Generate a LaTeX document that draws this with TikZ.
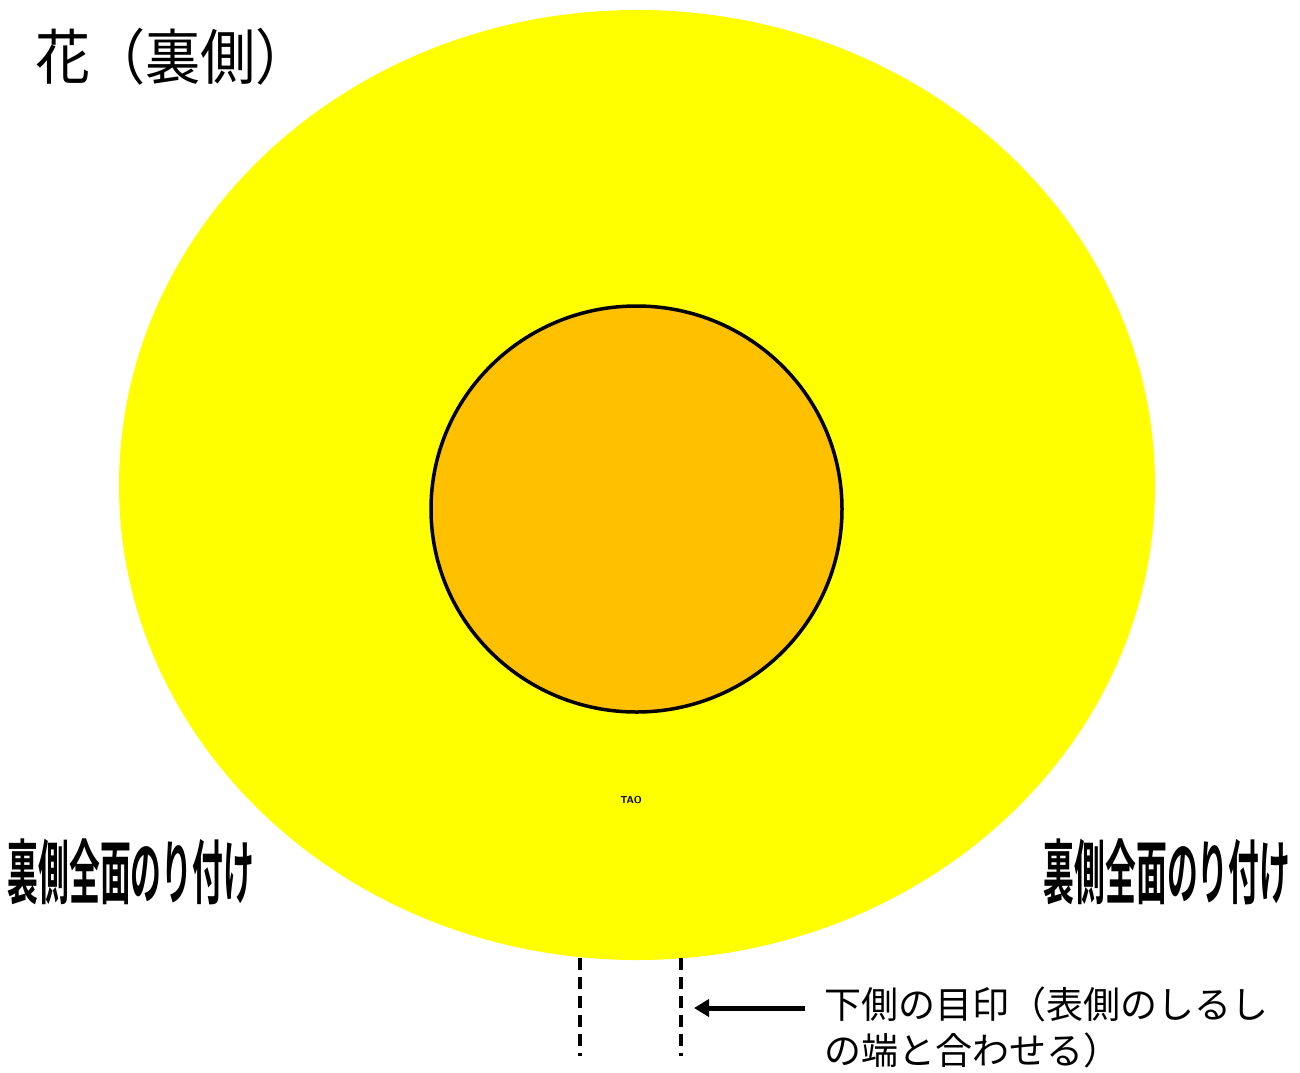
\documentclass[tikz,border=0pt]{standalone}
\usepackage{fontspec}
\newfontfamily\jp{Noto Sans CJK JP}
\newfontfamily\jpb{Noto Sans CJK JP Bold}
\usetikzlibrary{arrows.meta,shapes.geometric}
\definecolor{petal}{HTML}{FFFF00}
\definecolor{core}{HTML}{FFC000}
\tikzset{
  glue/.style={font=\jpb\fontsize{70}{70}\selectfont, xscale=0.44, inner sep=0pt},
  markline/.style={line width=3.5pt, dash pattern=on 12pt off 7pt},
  note/.style={font=\jp\fontsize{37}{46}\selectfont, anchor=north west, inner sep=0pt, align=left}
}
\begin{document}
\begin{tikzpicture}[x=1pt,y=-1pt]
\useasboundingbox[fill=white] (0,0) rectangle (1300,1072);
\fill[petal] (637,485) ellipse [x radius=518, y radius=475];
\node[draw, line width=3.5pt, fill=core, ellipse, minimum width=411pt, minimum height=406pt, inner sep=0pt] (center) at (636.5,509) {};
\node[font=\sffamily\bfseries\fontsize{10}{10}\selectfont, inner sep=0pt] (tao) at (631,800) {TAO};
\node[font=\jp\fontsize{60}{60}\selectfont, xscale=0.92, anchor=west, inner sep=0pt] (title) at (35,57) {花（裏側）};
\node[glue] (left) at (131,872) {裏側全面のり付け};
\node[glue] (right) at (1167,872) {裏側全面のり付け};
\coordinate (d1a) at (580,958); \coordinate (d1b) at (580,1056);
\coordinate (d2a) at (681,958); \coordinate (d2b) at (681,1056);
\draw[markline] (d1a) -- (d1b);
\draw[markline] (d2a) -- (d2b);
\node[note] (text) at (824,987) {下側の目印（表側のしるし\\の端と合わせる）};
\coordinate (arrowtail) at (805,1008);
\coordinate (arrowtip) at (694,1008);
\draw[line width=5pt, -{Triangle[length=15pt,width=17pt]}] (arrowtail) -- (arrowtip);
\end{tikzpicture}
\end{document}
